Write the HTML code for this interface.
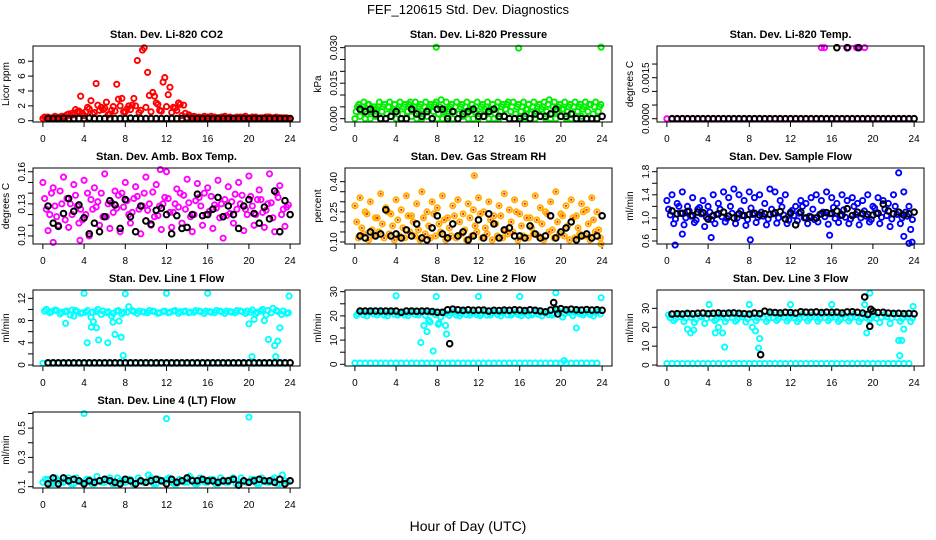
<!DOCTYPE html>
<html><head><meta charset="utf-8"><style>
html,body{margin:0;padding:0;background:#fff}
svg{display:block;font-family:"Liberation Sans",sans-serif}
</style></head><body>
<svg id="chart" width="936" height="540" viewBox="0 0 936 540" xmlns="http://www.w3.org/2000/svg">
<rect width="936" height="540" fill="#fff"/>
<text x="468" y="14" text-anchor="middle" font-size="13">FEF_120615  Std. Dev. Diagnostics</text>
<text x="468" y="531" text-anchor="middle" font-size="14">Hour of Day (UTC)</text>
</svg>
<script>
const hours=[0,0.5,1,1.5,2,2.5,3,3.5,4,4.5,5,5.5,6,6.5,7,7.5,8,8.5,9,9.5,10,10.5,11,11.5,12,12.5,13,13.5,14,14.5,15,15.5,16,16.5,17,17.5,18,18.5,19,19.5,20,20.5,21,21.5,22,22.5,23,23.5];
const xTicks=[0,4,8,12,16,20,24];

const co2A=[0.5,0.4,0.6,0.5,0.4,0.7,1.5,3.3,1.2,2.7,5.0,1.8,2.5,1.4,4.9,3.0,1.6,2.1,8.1,9.5,6.5,3.8,2.2,5.2,3.5,1.8,2.4,2.1,0.8,0.6,0.5,0.6,0.4,0.5,0.4,0.6,0.5,0.4,0.5,0.6,0.4,0.5,0.4,0.5,0.4,0.5,0.4,0.4];
const co2B=[0.4,0.3,0.5,0.6,0.8,1.0,1.2,1.0,1.8,0.9,2.1,1.5,0.8,1.9,2.9,1.2,2.0,3.0,1.1,9.8,3.4,3.3,1.4,5.8,4.5,1.7,2.2,1.0,0.6,0.5,0.4,0.5,0.6,0.4,0.5,0.4,0.3,0.5,0.4,0.4,0.5,0.3,0.4,0.5,0.4,0.3,0.4,0.3];
const co2C=[0.3,0.5,0.4,0.4,0.6,0.9,0.8,1.3,0.7,1.6,1.1,1.4,1.7,0.9,1.3,2.0,1.2,1.5,2.0,1.4,1.8,1.2,2.4,1.3,1.9,1.1,1.4,0.7,0.4,0.5,0.3,0.4,0.5,0.3,0.4,0.5,0.4,0.3,0.4,0.5,0.3,0.4,0.3,0.4,0.5,0.3,0.4,0.3];
const co2K=[0.3,0.3,0.3,0.35,0.3,0.3,0.3,0.3,0.35,0.3,0.3,0.3,0.3,0.3,0.3,0.3,0.35,0.3,0.3,0.3,0.3,0.3,0.3,0.3,0.3,0.3,0.3,0.3,0.3,0.3,0.3,0.3,0.3,0.3,0.3,0.3,0.3,0.3,0.3,0.3,0.3,0.3,0.3,0.3,0.3,0.3,0.3,0.3];
const co2OutH=[],co2OutV=[];

const presA=[0.006,0.007,0.006,0.005,0.007,0.006,0.007,0.006,0.007,0.006,0.007,0.007,0.006,0.007,0.006,0.007,0.008,0.007,0.006,0.007,0.006,0.007,0.006,0.007,0.006,0.007,0.006,0.007,0.006,0.007,0.007,0.006,0.007,0.006,0.007,0.006,0.007,0.008,0.007,0.006,0.007,0.006,0.007,0.006,0.007,0.006,0.007,0.006];
const presB=[0.003,0.004,0.002,0.003,0.004,0.003,0.002,0.003,0.004,0.002,0.003,0.004,0.003,0.002,0.004,0.003,0.002,0.003,0.004,0.003,0.002,0.003,0.004,0.003,0.002,0.004,0.003,0.002,0.003,0.004,0.003,0.002,0.003,0.004,0.002,0.003,0.004,0.003,0.002,0.003,0.004,0.003,0.002,0.003,0.004,0.003,0.002,0.003];
const presC=[0,0.001,0,0,0.001,0,0,0.001,0,0,0,0.001,0,0,0.001,0,0,0,0.001,0,0,0.001,0,0,0,0.001,0,0,0,0.001,0,0,0.001,0,0,0,0.001,0,0,0,0.001,0,0,0,0.001,0,0,0];
const presD=[0.005,0.005,0.006,0.004,0.005,0.005,0.005,0.004,0.005,0.005,0.006,0.005,0.005,0.005,0.005,0.006,0.005,0.004,0.005,0.005,0.005,0.005,0.004,0.005,0.005,0.005,0.004,0.005,0.005,0.006,0.005,0.005,0.005,0.004,0.005,0.005,0.005,0.006,0.005,0.005,0.004,0.005,0.005,0.005,0.005,0.006,0.005,0.005];
const presK=[0.004,0.003,0.004,0.002,0,0,0.001,0.003,0,0,0.004,0.002,0.001,0.003,0,0.004,0.004,0,0.003,0,0.002,0.003,0.004,0.001,0.001,0.003,0.004,0.001,0.001,0,0,0,0.001,0,0.002,0.001,0.001,0.002,0.004,0.001,0.001,0.002,0,0,0,0,0,0.001];
const presOutH=[7.9,15.9,23.9],presOutV=[0.0302,0.0298,0.0302];

const tempA=[0,0,0,0,0,0,0,0,0,0,0,0,0,0,0,0,0,0,0,0,0,0,0,0,0,0,0,0,0,0,0,0,0,0,0,0,0,0,0,0,0,0,0,0,0,0,0,0];
const tempK=[0,0,0,0,0,0,0,0,0,0,0,0,0,0,0,0,0,0,0,0,0,0,0,0,0,0,0,0,0,0,0,0,0,0,0,0,0,0,0,0,0,0,0,0,0,0,0,0];
const tempOutH=[15,15.3,17.6,18.4,18.7,19.2],tempOutV=[0.0026,0.0026,0.0026,0.0026,0.0026,0.0026];
const tempKOutH=[16.5,17.5,18.6],tempKOutV=[0.0026,0.0026,0.0026];

const ambA=[0.125,0.14,0.118,0.13,0.135,0.12,0.128,0.115,0.14,0.125,0.132,0.118,0.13,0.122,0.138,0.127,0.12,0.135,0.125,0.14,0.13,0.118,0.128,0.136,0.122,0.13,0.14,0.125,0.118,0.133,0.128,0.12,0.137,0.126,0.13,0.119,0.132,0.125,0.138,0.12,0.128,0.134,0.122,0.13,0.117,0.136,0.125,0.129];
const ambB=[0.15,0.105,0.145,0.11,0.155,0.108,0.148,0.112,0.152,0.1,0.145,0.11,0.158,0.107,0.142,0.104,0.15,0.112,0.146,0.102,0.155,0.11,0.148,0.106,0.16,0.108,0.144,0.112,0.153,0.104,0.149,0.11,0.145,0.107,0.152,0.098,0.146,0.112,0.15,0.105,0.156,0.11,0.143,0.108,0.158,0.104,0.147,0.109];
const ambC=[0.135,0.12,0.128,0.142,0.115,0.13,0.138,0.125,0.12,0.134,0.127,0.14,0.118,0.131,0.126,0.14,0.133,0.122,0.137,0.128,0.124,0.141,0.119,0.13,0.135,0.122,0.127,0.138,0.131,0.12,0.136,0.14,0.123,0.129,0.117,0.134,0.121,0.139,0.13,0.125,0.137,0.12,0.134,0.124,0.131,0.14,0.12,0.127];
const ambK=[0.128,0.112,0.109,0.121,0.135,0.123,0.129,0.117,0.102,0.112,0.104,0.118,0.133,0.129,0.107,0.134,0.118,0.104,0.128,0.114,0.111,0.124,0.126,0.12,0.102,0.119,0.107,0.108,0.12,0.139,0.119,0.12,0.125,0.136,0.118,0.128,0.12,0.107,0.128,0.134,0.121,0.112,0.127,0.116,0.142,0.104,0.133,0.12];
const ambOutH=[1,3.6,11.4],ambOutV=[0.094,0.096,0.162];

const rhA=[0.12,0.14,0.11,0.13,0.15,0.12,0.14,0.11,0.13,0.12,0.15,0.13,0.11,0.14,0.12,0.13,0.15,0.11,0.13,0.12,0.14,0.11,0.13,0.15,0.12,0.14,0.11,0.13,0.12,0.14,0.15,0.11,0.13,0.12,0.14,0.13,0.11,0.15,0.12,0.14,0.13,0.11,0.12,0.14,0.13,0.11,0.15,0.12];
const rhB=[0.2,0.17,0.24,0.16,0.22,0.19,0.25,0.18,0.21,0.17,0.23,0.2,0.16,0.22,0.18,0.24,0.19,0.21,0.17,0.23,0.2,0.16,0.22,0.18,0.24,0.17,0.21,0.19,0.23,0.16,0.2,0.25,0.18,0.22,0.17,0.21,0.19,0.24,0.16,0.2,0.23,0.18,0.22,0.17,0.25,0.19,0.21,0.16];
const rhC=[0.28,0.32,0.25,0.3,0.22,0.34,0.27,0.24,0.31,0.26,0.33,0.23,0.29,0.35,0.25,0.3,0.27,0.33,0.22,0.28,0.31,0.24,0.29,0.26,0.32,0.25,0.3,0.23,0.28,0.34,0.26,0.31,0.24,0.29,0.22,0.33,0.27,0.25,0.3,0.35,0.24,0.28,0.31,0.23,0.29,0.26,0.32,0.25];
const rhK=[0.13,0.12,0.15,0.13,0.14,0.26,0.13,0.14,0.12,0.16,0.13,0.19,0.12,0.11,0.17,0.23,0.14,0.12,0.19,0.13,0.15,0.11,0.13,0.21,0.12,0.24,0.19,0.12,0.16,0.17,0.13,0.13,0.12,0.18,0.14,0.12,0.13,0.23,0.12,0.15,0.17,0.2,0.11,0.13,0.14,0.12,0.13,0.23];
const rhOutH=[11.6,23.9],rhOutV=[0.43,0.09];

const flA=[1.05,0.98,1.08,1.0,1.03,0.96,1.07,1.01,0.97,1.06,1.02,0.99,1.08,1.0,1.04,0.97,1.06,1.01,1.03,0.98,1.07,1.0,1.05,0.96,1.04,1.08,1.0,1.03,0.97,1.06,1.02,1.07,0.99,1.04,1.01,0.98,1.06,1.0,1.03,0.97,1.08,1.01,1.04,0.98,1.06,1.0,1.03,0.97];
const flB=[1.3,1.4,1.25,1.45,1.2,1.35,1.15,1.3,1.2,1.4,1.25,1.45,1.35,1.5,1.4,1.3,1.45,1.35,1.4,1.25,1.5,1.45,1.3,1.4,1.1,1.2,1.3,1.25,1.35,1.4,1.3,1.45,1.35,1.25,1.4,1.3,1.35,1.25,1.3,1.4,1.2,1.35,1.3,1.25,1.4,1.1,1.45,1.2];
const flC=[1.15,0.9,1.2,0.88,1.12,0.92,1.18,0.85,1.1,0.9,1.15,0.93,1.2,0.9,1.12,0.87,1.17,0.92,1.1,0.88,1.15,0.91,1.19,0.9,1.13,0.95,1.2,0.9,1.15,0.93,1.1,0.89,1.18,0.92,1.14,0.9,1.2,0.88,1.12,0.93,1.17,0.9,1.15,0.85,1.2,0.9,1.1,0.8];
const flK=[1.12,1.07,1.08,1.11,1.04,1.1,1.09,0.98,1.04,1.07,1.1,1.03,1.0,1.07,1.04,1.06,1.08,1.05,1.07,1.06,1.09,1.11,0.98,1.08,0.88,1.1,1.0,1.01,1.0,1.07,1.09,1.08,1.12,1.05,1.16,1.04,1.1,1.07,1.06,1.05,1.08,1.24,1.12,1.07,1.1,1.05,1.07,1.1];
const flOutH=[0.8,1.5,4.3,8.1,15.8,22.5,23.0,23.5,23.8],flOutV=[0.53,0.72,0.66,0.62,0.7,1.78,0.68,0.56,0.58];

const l1A=[10,9.6,9.8,9.5,9.7,9.9,9.6,9.4,9.8,9.5,10,9.7,9.6,9.3,9.8,9.5,10.5,9.6,9.7,9.5,9.8,9.6,9.4,9.7,9.5,9.8,9.6,9.7,9.5,9.8,9.6,9.7,9.5,9.8,9.6,9.7,9.5,9.8,9.6,9.7,9.9,9.5,10,9.8,10.2,9.6,9.7,9.4];
const l1B=[9.7,9.4,9.9,9.2,9.6,9.0,9.8,9.3,9.5,8.6,9.6,9.1,9.4,8.8,9.7,9.2,9.5,9.8,9.3,9.6,9.4,9.7,9.3,9.6,9.4,9.7,9.3,9.6,9.4,9.5,9.7,9.3,9.6,9.4,9.7,9.3,9.6,9.4,9.7,9.3,9.5,9.2,9.7,9.0,9.4,9.8,9.1,9.3];
const l1C=[0.3,0.3,0.3,0.3,0.3,0.3,0.3,0.3,0.3,0.3,0.3,0.3,0.3,0.3,0.3,0.3,0.3,0.3,0.3,0.3,0.3,0.3,0.3,0.3,0.3,0.3,0.3,0.3,0.3,0.3,0.3,0.3,0.3,0.3,0.3,0.3,0.3,0.3,0.3,0.3,0.3,0.3,0.3,0.3,0.3,0.3,0.3,0.3];
const l1K=[0.4,0.4,0.4,0.4,0.4,0.4,0.4,0.4,0.4,0.4,0.4,0.4,0.4,0.4,0.4,0.4,0.4,0.4,0.4,0.4,0.4,0.4,0.4,0.4,0.4,0.4,0.4,0.4,0.4,0.4,0.4,0.4,0.4,0.4,0.4,0.4,0.4,0.4,0.4,0.4,0.4,0.4,0.4,0.4,0.4,0.4,0.4,0.4];
const l1OutH=[2.2,3.0,4.0,4.3,4.7,4.9,5.2,5.4,6.3,6.8,7.0,7.4,7.6,7.8,8.0,12,16,20,20.3,20.5,21.5,21.9,22.5,22.6,22.8,23.0,23.9];
const l1OutV=[7.5,8.8,12.9,4.0,6.8,7.8,6.7,4.5,4.0,7.7,5.5,7.9,5.0,1.7,12.8,12.9,12.9,7.4,1.5,8.2,8.0,4.6,3.5,1.5,4.3,6.7,12.4];

const l2A=[21,20.5,21.5,20.8,21.2,20.3,21.4,20.7,21,20.4,21.3,20.6,21.1,20.2,21.5,20.5,19.5,20.9,21.2,20.4,21,20.6,21.3,20.5,21,20.3,21.2,20.6,21.4,20.4,21.1,20.6,21.3,20.2,21,20.7,21.4,20.5,21.1,21.8,20.8,21.3,21.5,20.9,21.2,20.6,21.4,20.8];
const l2B=[20.2,21.8,20,22,20.4,21.6,20,21.9,20.3,21.5,20.1,21.7,20.4,21.8,18.2,21.6,17,21.3,20.2,21.7,20,21.9,20.3,21.5,20.1,21.8,20.4,21.6,20,21.9,20.3,21.5,20.1,21.7,20.4,21.8,20,21.6,20.3,22.4,19.5,22,20.1,21.8,20.4,21.6,20,21.9];
const l2C=[0.5,0.5,0.5,0.5,0.5,0.5,0.5,0.5,0.5,0.5,0.5,0.5,0.5,0.5,0.5,0.5,0.5,0.5,0.5,0.5,0.5,0.5,0.5,0.5,0.5,0.5,0.5,0.5,0.5,0.5,0.5,0.5,0.5,0.5,0.5,0.5,0.5,0.5,0.5,0.5,0.5,0.5,0.5,0.5,0.5,0.5,0.5,0.5];
const l2K=[22,22,22,22,22,22,22,22,21.5,22,22,21.9,22,22,21.8,21.5,21.5,22.5,22.8,22.5,22.3,22.5,22.3,22.4,22.4,22,22.3,22.2,22.4,22.3,22.5,22.4,22.2,22.5,22.3,22,21.7,22.4,22.8,23,22.5,22.8,22.5,22.4,22.6,22.4,22.5,22.3];
const l2OutH=[4,6.4,6.7,7.0,7.3,7.6,7.9,8.1,8.8,8.9,12,16,19.3,19.5,21.5,23.9,20.3];
const l2OutV=[28.3,9,16,13.5,17.5,5.5,28,16.5,16,12.5,28,28,21,29.5,15,27.5,1.5];
const l2KOutH=[9.2,19.3,19.7],l2KOutV=[8.5,25.5,20.8];

const l3A=[25,24.5,25.5,24.8,25.2,24.3,25.4,24.7,25,24.4,25.3,24.6,25.1,24.2,25.5,24.5,25.3,24.9,25.2,24.4,25,24.6,25.3,24.5,25,24.3,25.2,24.6,25.4,24.4,25.1,24.6,25.3,24.2,25,24.7,25.4,24.5,25.1,24.8,24.8,25.3,25.5,24.9,25.2,24.6,25.4,24.8];
const l3B=[26.5,23.5,27,23,26.8,22.5,26,22,27.2,23.5,26.5,23,27,23.2,26.8,22.8,26.6,23.4,26.9,23.1,27.1,23.6,26.7,23.3,26.5,23,26.9,23.4,26.6,23.2,27,23.5,26.8,23.1,26.7,23.3,26.9,23,26.6,24,26.8,22.5,26.7,22,26.9,23.1,26.5,23];
const l3C=[0.8,0.8,0.8,0.8,0.8,0.8,0.8,0.8,0.8,0.8,0.8,0.8,0.8,0.8,0.8,0.8,0.8,0.8,0.8,0.8,0.8,0.8,0.8,0.8,0.8,0.8,0.8,0.8,0.8,0.8,0.8,0.8,0.8,0.8,0.8,0.8,0.8,0.8,0.8,0.8,0.8,0.8,0.8,0.8,0.8,0.8,0.8,0.8];
const l3K=[27,27.2,27,27.3,27.1,27.4,27.5,27.2,27.4,27.6,27.3,27.5,27.6,27.4,27.2,27,27.5,27.2,28.5,28,27.8,27.6,27.9,27.8,27.5,28.2,28,27.9,28.1,27.8,28,27.9,28,27.6,28.1,28.2,27.9,27.5,26.8,28.5,27.8,27.9,27.5,27.3,27.4,27.2,27.3,27.1];
const l3OutH=[2.0,2.3,2.6,4.1,4.7,5.0,5.4,5.6,8.0,8.3,8.6,8.9,9.0,12,16,19.2,19.4,19.7,22.5,22.6,22.8,23.0,23.9];
const l3OutV=[19,17,18.5,32,17,20,17,9.5,32,20,18,9,14,32,32,32,17,38,13,5,13,19,31];
const l3KOutH=[9.1,19.2,19.7,19.8],l3KOutV=[5.5,36,20.5,29.5];

const l4A=[0.13,0.15,0.12,0.14,0.13,0.16,0.12,0.14,0.13,0.15,0.12,0.14,0.13,0.16,0.12,0.14,0.13,0.15,0.12,0.14,0.13,0.16,0.12,0.14,0.15,0.13,0.12,0.14,0.13,0.15,0.12,0.14,0.13,0.15,0.12,0.14,0.13,0.16,0.12,0.14,0.13,0.15,0.12,0.14,0.13,0.16,0.12,0.14];
const l4B=[0.15,0.12,0.16,0.13,0.15,0.12,0.16,0.13,0.15,0.12,0.17,0.13,0.15,0.12,0.16,0.13,0.15,0.12,0.16,0.13,0.18,0.12,0.15,0.13,0.16,0.12,0.15,0.13,0.17,0.12,0.16,0.13,0.15,0.12,0.16,0.13,0.15,0.12,0.16,0.13,0.15,0.12,0.16,0.13,0.15,0.12,0.18,0.13];
const l4K=[0.12,0.16,0.12,0.16,0.14,0.15,0.14,0.12,0.14,0.13,0.14,0.15,0.14,0.13,0.12,0.15,0.14,0.12,0.14,0.13,0.14,0.15,0.14,0.12,0.15,0.13,0.14,0.16,0.14,0.14,0.15,0.14,0.14,0.13,0.14,0.14,0.15,0.11,0.14,0.13,0.14,0.15,0.14,0.14,0.13,0.15,0.12,0.14];
const l4OutH=[4,12,20],l4OutV=[0.6,0.565,0.575];

const NS="http://www.w3.org/2000/svg";
const svg=document.getElementById('chart');
const colW=312, boxL=33, boxW=267, rowTops=[46,168,290,412], boxH=76;

const panels=[
 {name:'co2',title:'Stan. Dev. Li-820 CO2',ylab:'Licor ppm',col:'#ff0000',r:0,c:0,lo:-0.17,hi:10.05,ticks:[0,2,4,6,8],labels:['0','2','4','6','8'],series:[co2C,co2A,co2B],black:co2K,outH:co2OutH,outV:co2OutV},
 {name:'pressure',title:'Stan. Dev. Li-820 Pressure',ylab:'kPa',col:'#00ee00',r:0,c:1,lo:-0.0014,hi:0.0307,ticks:[0,0.005,0.01,0.015,0.02,0.025,0.03],labels:['0.000','','','0.015','','','0.030'],series:[presC,presB,presD,presA],black:presK,outH:presOutH,outV:presOutV},
 {name:'temp',title:'Stan. Dev. Li-820 Temp.',ylab:'degrees C',col:'#ff00ff',r:0,c:2,lo:-0.00012,hi:0.00266,ticks:[0,0.0005,0.001,0.0015,0.002],labels:['0.0000','','','0.0015',''],series:[tempA],black:tempK,outH:tempOutH,outV:tempOutV,kOutH:tempKOutH,kOutV:tempKOutV},
 {name:'amb-box-temp',title:'Stan. Dev. Amb. Box Temp.',ylab:'degrees C',col:'#ff00ff',r:1,c:0,lo:0.0925,hi:0.1635,ticks:[0.10,0.11,0.12,0.13,0.14,0.15,0.16],labels:['0.10','','','0.13','','','0.16'],series:[ambB,ambC,ambA],black:ambK,outH:ambOutH,outV:ambOutV},
 {name:'gas-rh',title:'Stan. Dev. Gas Stream RH',ylab:'percent',col:'#ffb000',inner:'#ff2000',r:1,c:1,lo:0.09,hi:0.468,ticks:[0.10,0.15,0.20,0.25,0.30,0.35,0.40],labels:['0.10','','','0.25','','','0.40'],series:[rhC,rhB,rhA],black:rhK,outH:rhOutH,outV:rhOutV},
 {name:'sample-flow',title:'Stan. Dev. Sample Flow',ylab:'ml/min',col:'#0000ff',r:1,c:2,lo:0.548,hi:1.864,ticks:[0.6,0.8,1.0,1.2,1.4,1.6,1.8],labels:['0.6','','1.0','','1.4','','1.8'],series:[flB,flC,flA],black:flK,outH:flOutH,outV:flOutV},
 {name:'line1-flow',title:'Stan. Dev. Line 1 Flow',ylab:'ml/min',col:'#00ffff',r:2,c:0,lo:-0.18,hi:13.5,ticks:[0,2,4,6,8,10,12],labels:['0','','4','','8','','12'],series:[l1C,l1B,l1A],black:l1K,outH:l1OutH,outV:l1OutV},
 {name:'line2-flow',title:'Stan. Dev. Line 2 Flow',ylab:'ml/min',col:'#00ffff',r:2,c:1,lo:-0.7,hi:30.7,ticks:[0,5,10,15,20,25,30],labels:['0','','10','','20','','30'],series:[l2C,l2B,l2A],black:l2K,outH:l2OutH,outV:l2OutV,kOutH:l2KOutH,kOutV:l2KOutV},
 {name:'line3-flow',title:'Stan. Dev. Line 3 Flow',ylab:'ml/min',col:'#00ffff',r:2,c:2,lo:-0.5,hi:39.7,ticks:[0,10,20,30],labels:['0','10','20','30'],series:[l3C,l3B,l3A],black:l3K,outH:l3OutH,outV:l3OutV,kOutH:l3KOutH,kOutV:l3KOutV},
 {name:'line4-flow',title:'Stan. Dev. Line 4 (LT) Flow',ylab:'ml/min',col:'#00ffff',r:3,c:0,lo:0.091,hi:0.61,ticks:[0.1,0.2,0.3,0.4,0.5,0.6],labels:['0.1','','0.3','','0.5',''],series:[l4A,l4B],black:l4K,outH:l4OutH,outV:l4OutV}
];

function mk(tag,attrs,parent){const e=document.createElementNS(NS,tag);for(const k in attrs)e.setAttribute(k,attrs[k]);parent.appendChild(e);return e;}

panels.forEach(p=>{
  const x0=boxL+p.c*colW, y0=rowTops[p.r];
  const g=mk('g',{},svg);
  
  
  const xs=h=>x0+boxW*(h+0.96)/25.92;
  const ys=v=>y0+boxH-boxH*(v-p.lo)/(p.hi-p.lo);
  const t=mk('text',{x:x0+boxW/2,y:y0-8,'text-anchor':'middle','font-size':'11','font-weight':'bold'},g);
  t.textContent=p.title;
  
  
  const yl=mk('text',{x:0,y:0,'text-anchor':'middle','font-size':'10',transform:`translate(${x0-24},${y0+boxH/2}) rotate(-90)`},g);
  yl.textContent=p.ylab;
  
  
  const xa=mk('g',{},g);
  
  
  mk('line',{x1:xs(0),x2:xs(24),y1:y0+boxH,y2:y0+boxH,stroke:'#000','stroke-width':1},xa);
  xTicks.forEach(h=>{
    mk('line',{x1:xs(h),x2:xs(h),y1:y0+boxH,y2:y0+boxH+5,stroke:'#000','stroke-width':1},xa);
    const tl=mk('text',{x:xs(h),y:y0+boxH+20,'text-anchor':'middle','font-size':'10'},xa);
    tl.textContent=String(h);
    
    
  });
  const ya=mk('g',{},g);
  
  
  p.ticks.forEach((v,i)=>{
    mk('line',{x1:x0-5,x2:x0,y1:ys(v),y2:ys(v),stroke:'#000','stroke-width':1},ya);
    if(p.labels[i]){
      const tl=mk('text',{x:0,y:0,'text-anchor':'middle','font-size':'10',transform:`translate(${x0-8},${ys(v)}) rotate(-90)`},ya);
      tl.textContent=p.labels[i];
      
      
    }
  });
  mk('line',{x1:x0,x2:x0,y1:ys(p.ticks[0]),y2:ys(p.ticks[p.ticks.length-1]),stroke:'#000','stroke-width':1},ya);
  const pts=mk('g',{},g);
  
  
  const dot=(h,v,col,nm,inner,big)=>{
    const c=mk('circle',{cx:xs(h),cy:ys(v),r:big?2.8:2.6,fill:'none',stroke:col,'stroke-width':big?2:1.9},pts);
    
    
    if(inner){mk('circle',{cx:xs(h),cy:ys(v),r:1.1,fill:inner},pts);}
  };
  p.series.forEach((arr,si)=>{
    const off=si*0.5/p.series.length;
    arr.forEach((v,i)=>dot(hours[i]+off,v,p.col,'data-point',p.inner));
  });
  p.outH.forEach((h,i)=>dot(h,p.outV[i],p.col,'outlier-point',p.inner));
  p.black.forEach((v,i)=>dot(hours[i]+0.5,v,'#000','hourly-mean-point',null,true));
  if(p.kOutH)p.kOutH.forEach((h,i)=>dot(h,p.kOutV[i],'#000','hourly-mean-outlier',null,true));
  const b=mk('rect',{x:x0,y:y0,width:boxW,height:boxH,fill:'none',stroke:'#000','stroke-width':1},g);
  
  
});
</script>
</body></html>
